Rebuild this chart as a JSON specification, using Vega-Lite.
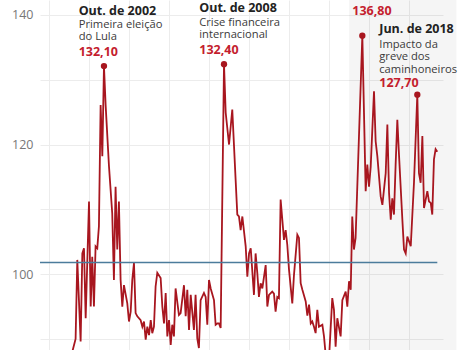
{
  "$schema": "https://vega.github.io/schema/vega-lite/v6.json",
  "width": 403,
  "height": 350,
  "autosize": {"type": "none"},
  "padding": {"left": 40, "top": 0, "right": 28, "bottom": 0},
  "background": "white",
  "config": {"view": {"stroke": null}, "font": "Open Sans"},
  "datasets": {
    "series": [
      {"d":"2001-03-01","v":88.0},{"d":"2001-05-01","v":90.0},{"d":"2001-06-01","v":102.2},{"d":"2001-08-01","v":89.6},
      {"d":"2001-09-01","v":103.2},{"d":"2001-10-01","v":104.0},{"d":"2001-11-01","v":93.2},{"d":"2002-01-01","v":111.2},
      {"d":"2002-02-01","v":95.0},{"d":"2002-03-01","v":102.7},{"d":"2002-04-01","v":95.0},{"d":"2002-05-01","v":104.3},
      {"d":"2002-06-01","v":104.0},{"d":"2002-07-01","v":107.4},{"d":"2002-08-01","v":126.1},{"d":"2002-09-01","v":118.2},
      {"d":"2002-10-01","v":132.1},{"d":"2002-11-01","v":126.0},{"d":"2003-01-01","v":116.6},{"d":"2003-03-01","v":109.4},
      {"d":"2003-04-01","v":99.1},{"d":"2003-05-01","v":113.5},{"d":"2003-06-01","v":103.8},{"d":"2003-07-01","v":111.2},
      {"d":"2003-08-01","v":99.1},{"d":"2003-09-01","v":95.0},{"d":"2003-10-01","v":98.3},{"d":"2003-12-01","v":95.5},
      {"d":"2004-01-01","v":92.7},{"d":"2004-02-01","v":94.2},{"d":"2004-03-01","v":99.1},{"d":"2004-04-01","v":101.7},
      {"d":"2004-05-01","v":94.0},{"d":"2004-06-01","v":93.5},{"d":"2004-08-01","v":92.9},{"d":"2004-09-01","v":91.9},
      {"d":"2004-10-01","v":92.7},{"d":"2004-11-01","v":89.9},{"d":"2004-12-01","v":91.9},{"d":"2005-01-01","v":90.6},
      {"d":"2005-02-01","v":92.9},{"d":"2005-03-01","v":90.9},{"d":"2005-04-01","v":91.9},{"d":"2005-05-01","v":98.1},
      {"d":"2005-06-01","v":100.2},{"d":"2005-08-01","v":99.4},{"d":"2005-09-01","v":95.0},{"d":"2005-10-01","v":92.4},
      {"d":"2005-11-01","v":97.1},{"d":"2005-12-01","v":90.4},{"d":"2006-01-01","v":92.9},{"d":"2006-02-01","v":89.1},
      {"d":"2006-03-01","v":92.2},{"d":"2006-04-01","v":90.4},{"d":"2006-05-01","v":97.8},{"d":"2006-07-01","v":93.7},
      {"d":"2006-08-01","v":94.0},{"d":"2006-10-01","v":98.3},{"d":"2006-11-01","v":93.5},{"d":"2006-12-01","v":97.6},
      {"d":"2007-01-01","v":91.4},{"d":"2007-02-01","v":96.8},{"d":"2007-04-01","v":91.4},{"d":"2007-05-01","v":96.8},
      {"d":"2007-06-01","v":90.1},{"d":"2007-07-01","v":88.6},{"d":"2007-08-01","v":96.0},{"d":"2007-10-01","v":97.1},
      {"d":"2007-11-01","v":96.5},{"d":"2007-12-01","v":92.2},{"d":"2008-01-01","v":99.1},{"d":"2008-02-01","v":97.8},
      {"d":"2008-04-01","v":96.0},{"d":"2008-05-01","v":92.2},{"d":"2008-06-01","v":92.4},{"d":"2008-07-01","v":92.4},
      {"d":"2008-08-01","v":91.7},{"d":"2008-10-01","v":132.4},{"d":"2008-11-01","v":124.9},{"d":"2009-01-01","v":120.0},
      {"d":"2009-03-01","v":125.4},{"d":"2009-05-01","v":114.6},{"d":"2009-06-01","v":109.2},{"d":"2009-07-01","v":108.9},
      {"d":"2009-08-01","v":106.8},{"d":"2009-09-01","v":108.9},{"d":"2009-11-01","v":104.3},{"d":"2009-12-01","v":99.6},
      {"d":"2010-01-01","v":103.2},{"d":"2010-02-01","v":104.0},{"d":"2010-04-01","v":96.8},{"d":"2010-05-01","v":103.2},
      {"d":"2010-06-01","v":100.2},{"d":"2010-07-01","v":96.5},{"d":"2010-08-01","v":98.6},{"d":"2010-09-01","v":97.8},
      {"d":"2010-11-01","v":101.4},{"d":"2010-12-01","v":95.0},{"d":"2011-01-01","v":96.8},{"d":"2011-03-01","v":97.3},
      {"d":"2011-04-01","v":97.0},{"d":"2011-05-01","v":94.2},{"d":"2011-06-01","v":96.5},{"d":"2011-07-01","v":96.3},
      {"d":"2011-08-01","v":111.5},{"d":"2011-09-01","v":108.4},{"d":"2011-10-01","v":105.3},{"d":"2011-11-01","v":106.8},
      {"d":"2011-12-01","v":104.5},{"d":"2012-01-01","v":100.7},{"d":"2012-02-01","v":98.0},{"d":"2012-03-01","v":95.5},
      {"d":"2012-04-01","v":99.9},{"d":"2012-06-01","v":106.1},{"d":"2012-07-01","v":105.6},{"d":"2012-08-01","v":98.6},
      {"d":"2012-09-01","v":97.6},{"d":"2012-11-01","v":95.8},{"d":"2012-12-01","v":93.6},{"d":"2013-01-01","v":95.3},
      {"d":"2013-02-01","v":92.4},{"d":"2013-03-01","v":92.7},{"d":"2013-04-01","v":91.9},{"d":"2013-05-01","v":90.9},
      {"d":"2013-06-01","v":94.5},{"d":"2013-07-01","v":91.9},{"d":"2013-09-01","v":92.2},{"d":"2013-10-01","v":90.4},
      {"d":"2013-11-01","v":87.5},{"d":"2014-01-01","v":87.0},{"d":"2014-03-01","v":96.3},{"d":"2014-04-01","v":94.5},
      {"d":"2014-05-01","v":88.8},{"d":"2014-06-01","v":93.2},{"d":"2014-08-01","v":90.4},{"d":"2014-09-01","v":96.0},
      {"d":"2014-11-01","v":97.3},{"d":"2014-12-01","v":95.0},{"d":"2015-01-01","v":98.9},{"d":"2015-02-01","v":97.6},
      {"d":"2015-03-01","v":108.9},{"d":"2015-04-01","v":103.8},{"d":"2015-05-01","v":105.6},{"d":"2015-09-01","v":136.8},
      {"d":"2015-11-01","v":112.8},{"d":"2015-12-01","v":116.9},{"d":"2016-01-01","v":113.5},{"d":"2016-02-01","v":116.6},
      {"d":"2016-04-01","v":128.2},{"d":"2016-05-01","v":120.5},{"d":"2016-06-01","v":118.2},{"d":"2016-08-01","v":112.0},
      {"d":"2016-09-01","v":110.7},{"d":"2016-11-01","v":115.6},{"d":"2016-12-01","v":123.1},{"d":"2017-01-01","v":112.5},
      {"d":"2017-02-01","v":108.4},{"d":"2017-03-01","v":111.7},{"d":"2017-04-01","v":109.2},{"d":"2017-05-01","v":116.9},
      {"d":"2017-06-01","v":123.8},{"d":"2017-07-01","v":118.5},{"d":"2017-09-01","v":108.4},{"d":"2017-10-01","v":103.8},
      {"d":"2017-11-01","v":103.2},{"d":"2017-12-01","v":105.8},{"d":"2018-02-01","v":104.3},{"d":"2018-04-01","v":114.1},
      {"d":"2018-06-01","v":127.7},{"d":"2018-07-01","v":115.6},{"d":"2018-08-01","v":114.1},{"d":"2018-09-01","v":121.3},
      {"d":"2018-10-01","v":110.2},{"d":"2018-11-01","v":111.5},{"d":"2018-12-01","v":112.8},{"d":"2019-01-01","v":111.2},
      {"d":"2019-02-01","v":111.0},{"d":"2019-03-01","v":109.2},{"d":"2019-04-01","v":117.7},{"d":"2019-05-01","v":119.3},
      {"d":"2019-06-01","v":118.9}
    ],
    "peaks": [
      {"d":"2002-10-01","v":132.1},{"d":"2008-10-01","v":132.4},{"d":"2015-09-01","v":136.8},{"d":"2018-06-01","v":127.7}
    ],
    "shade": [{"start":"2015-01-01","end":"2020-05-15"}],
    "avg": [{"start":"1999-07-21","end":"2019-06-01","v":101.8}],
    "notes": [
      {"d":"2001-06-26","v":140.0,"kind":"title","t":"Out. de 2002"},
      {"d":"2007-07-07","v":140.5,"kind":"title","t":"Out. de 2008"},
      {"d":"2016-07-06","v":137.2,"kind":"title","t":"Jun. de 2018"},
      {"d":"2001-06-26","v":138.0,"kind":"desc","t":"Primeira eleição|do Lula"},
      {"d":"2007-07-07","v":138.35,"kind":"desc","t":"Crise financeira|internacional"},
      {"d":"2016-07-06","v":134.95,"kind":"desc","t":"Impacto da|greve dos|caminhoneiros"},
      {"d":"2001-06-26","v":133.6,"kind":"val","t":"132,10"},
      {"d":"2007-07-07","v":134.0,"kind":"val","t":"132,40"},
      {"d":"2015-03-02","v":140.05,"kind":"val","t":"136,80"},
      {"d":"2016-07-06","v":128.9,"kind":"val","t":"127,70"}
    ]
  },
  "layer": [
    {
      "data": {"name": "shade"},
      "mark": {"type": "rect", "fill": "#000000", "fillOpacity": 0.04},
      "encoding": {
        "x": {"field": "start", "type": "temporal",
              "scale": {"domain": [{"year":1999,"month":7,"date":21},{"year":2019,"month":9,"date":13}]},
              "axis": {"grid": true, "labels": false, "ticks": false, "domain": false, "title": null,
                       "gridColor": "#ececec", "gridWidth": 1,
                       "values": [{"year":2000},{"year":2001},{"year":2002},{"year":2003},{"year":2004},{"year":2005},{"year":2006},{"year":2007},{"year":2008},{"year":2009},{"year":2010},{"year":2011},{"year":2012},{"year":2013},{"year":2014},{"year":2015},{"year":2016},{"year":2017},{"year":2018},{"year":2019}]}},
        "x2": {"field": "end"}
      }
    },
    {
      "data": {"name": "series"},
      "mark": {"type": "line", "color": "#a8161f", "strokeWidth": 1.8, "clip": true},
      "encoding": {
        "x": {"field": "d", "type": "temporal"},
        "y": {"field": "v", "type": "quantitative",
              "scale": {"domain": [88.3, 142.3], "nice": false, "zero": false},
              "axis": {"title": null, "ticks": false, "domain": false, "grid": true,
                       "gridColor": "#ececec", "values": [90, 100, 110, 120, 130, 140],
                       "labelExpr": "datum.value % 20 == 0 ? datum.label : ''",
                       "labelFontSize": 12.5, "labelColor": "#777777", "labelPadding": 7,
                       "labelFont": "Open Sans"}}
      }
    },
    {
      "data": {"name": "avg"},
      "mark": {"type": "rule", "color": "#4b7c9c", "strokeWidth": 1.5},
      "encoding": {
        "x": {"field": "start", "type": "temporal"},
        "x2": {"field": "end"},
        "y": {"field": "v", "type": "quantitative"}
      }
    },
    {
      "data": {"name": "peaks"},
      "mark": {"type": "point", "filled": true, "color": "#a8161f", "size": 40, "opacity": 1},
      "encoding": {
        "x": {"field": "d", "type": "temporal"},
        "y": {"field": "v", "type": "quantitative"}
      }
    },
    {
      "data": {"name": "notes"},
      "transform": [{"filter": "datum.kind == 'title'"}],
      "mark": {"type": "text", "align": "left", "baseline": "alphabetic", "fontSize": 12.5, "fontWeight": "bold", "color": "#222222", "font": "Open Sans"},
      "encoding": {
        "x": {"field": "d", "type": "temporal"},
        "y": {"field": "v", "type": "quantitative"},
        "text": {"field": "t"}
      }
    },
    {
      "data": {"name": "notes"},
      "transform": [{"filter": "datum.kind == 'desc'"}],
      "mark": {"type": "text", "align": "left", "baseline": "alphabetic", "fontSize": 11.2, "color": "#3a3a3a", "font": "Open Sans", "lineBreak": "|", "lineHeight": 12.5},
      "encoding": {
        "x": {"field": "d", "type": "temporal"},
        "y": {"field": "v", "type": "quantitative"},
        "text": {"field": "t"}
      }
    },
    {
      "data": {"name": "notes"},
      "transform": [{"filter": "datum.kind == 'val'"}],
      "mark": {"type": "text", "align": "left", "baseline": "alphabetic", "fontSize": 12.5, "fontWeight": "bold", "color": "#c41d2e", "font": "Open Sans"},
      "encoding": {
        "x": {"field": "d", "type": "temporal"},
        "y": {"field": "v", "type": "quantitative"},
        "text": {"field": "t"}
      }
    }
  ]
}
